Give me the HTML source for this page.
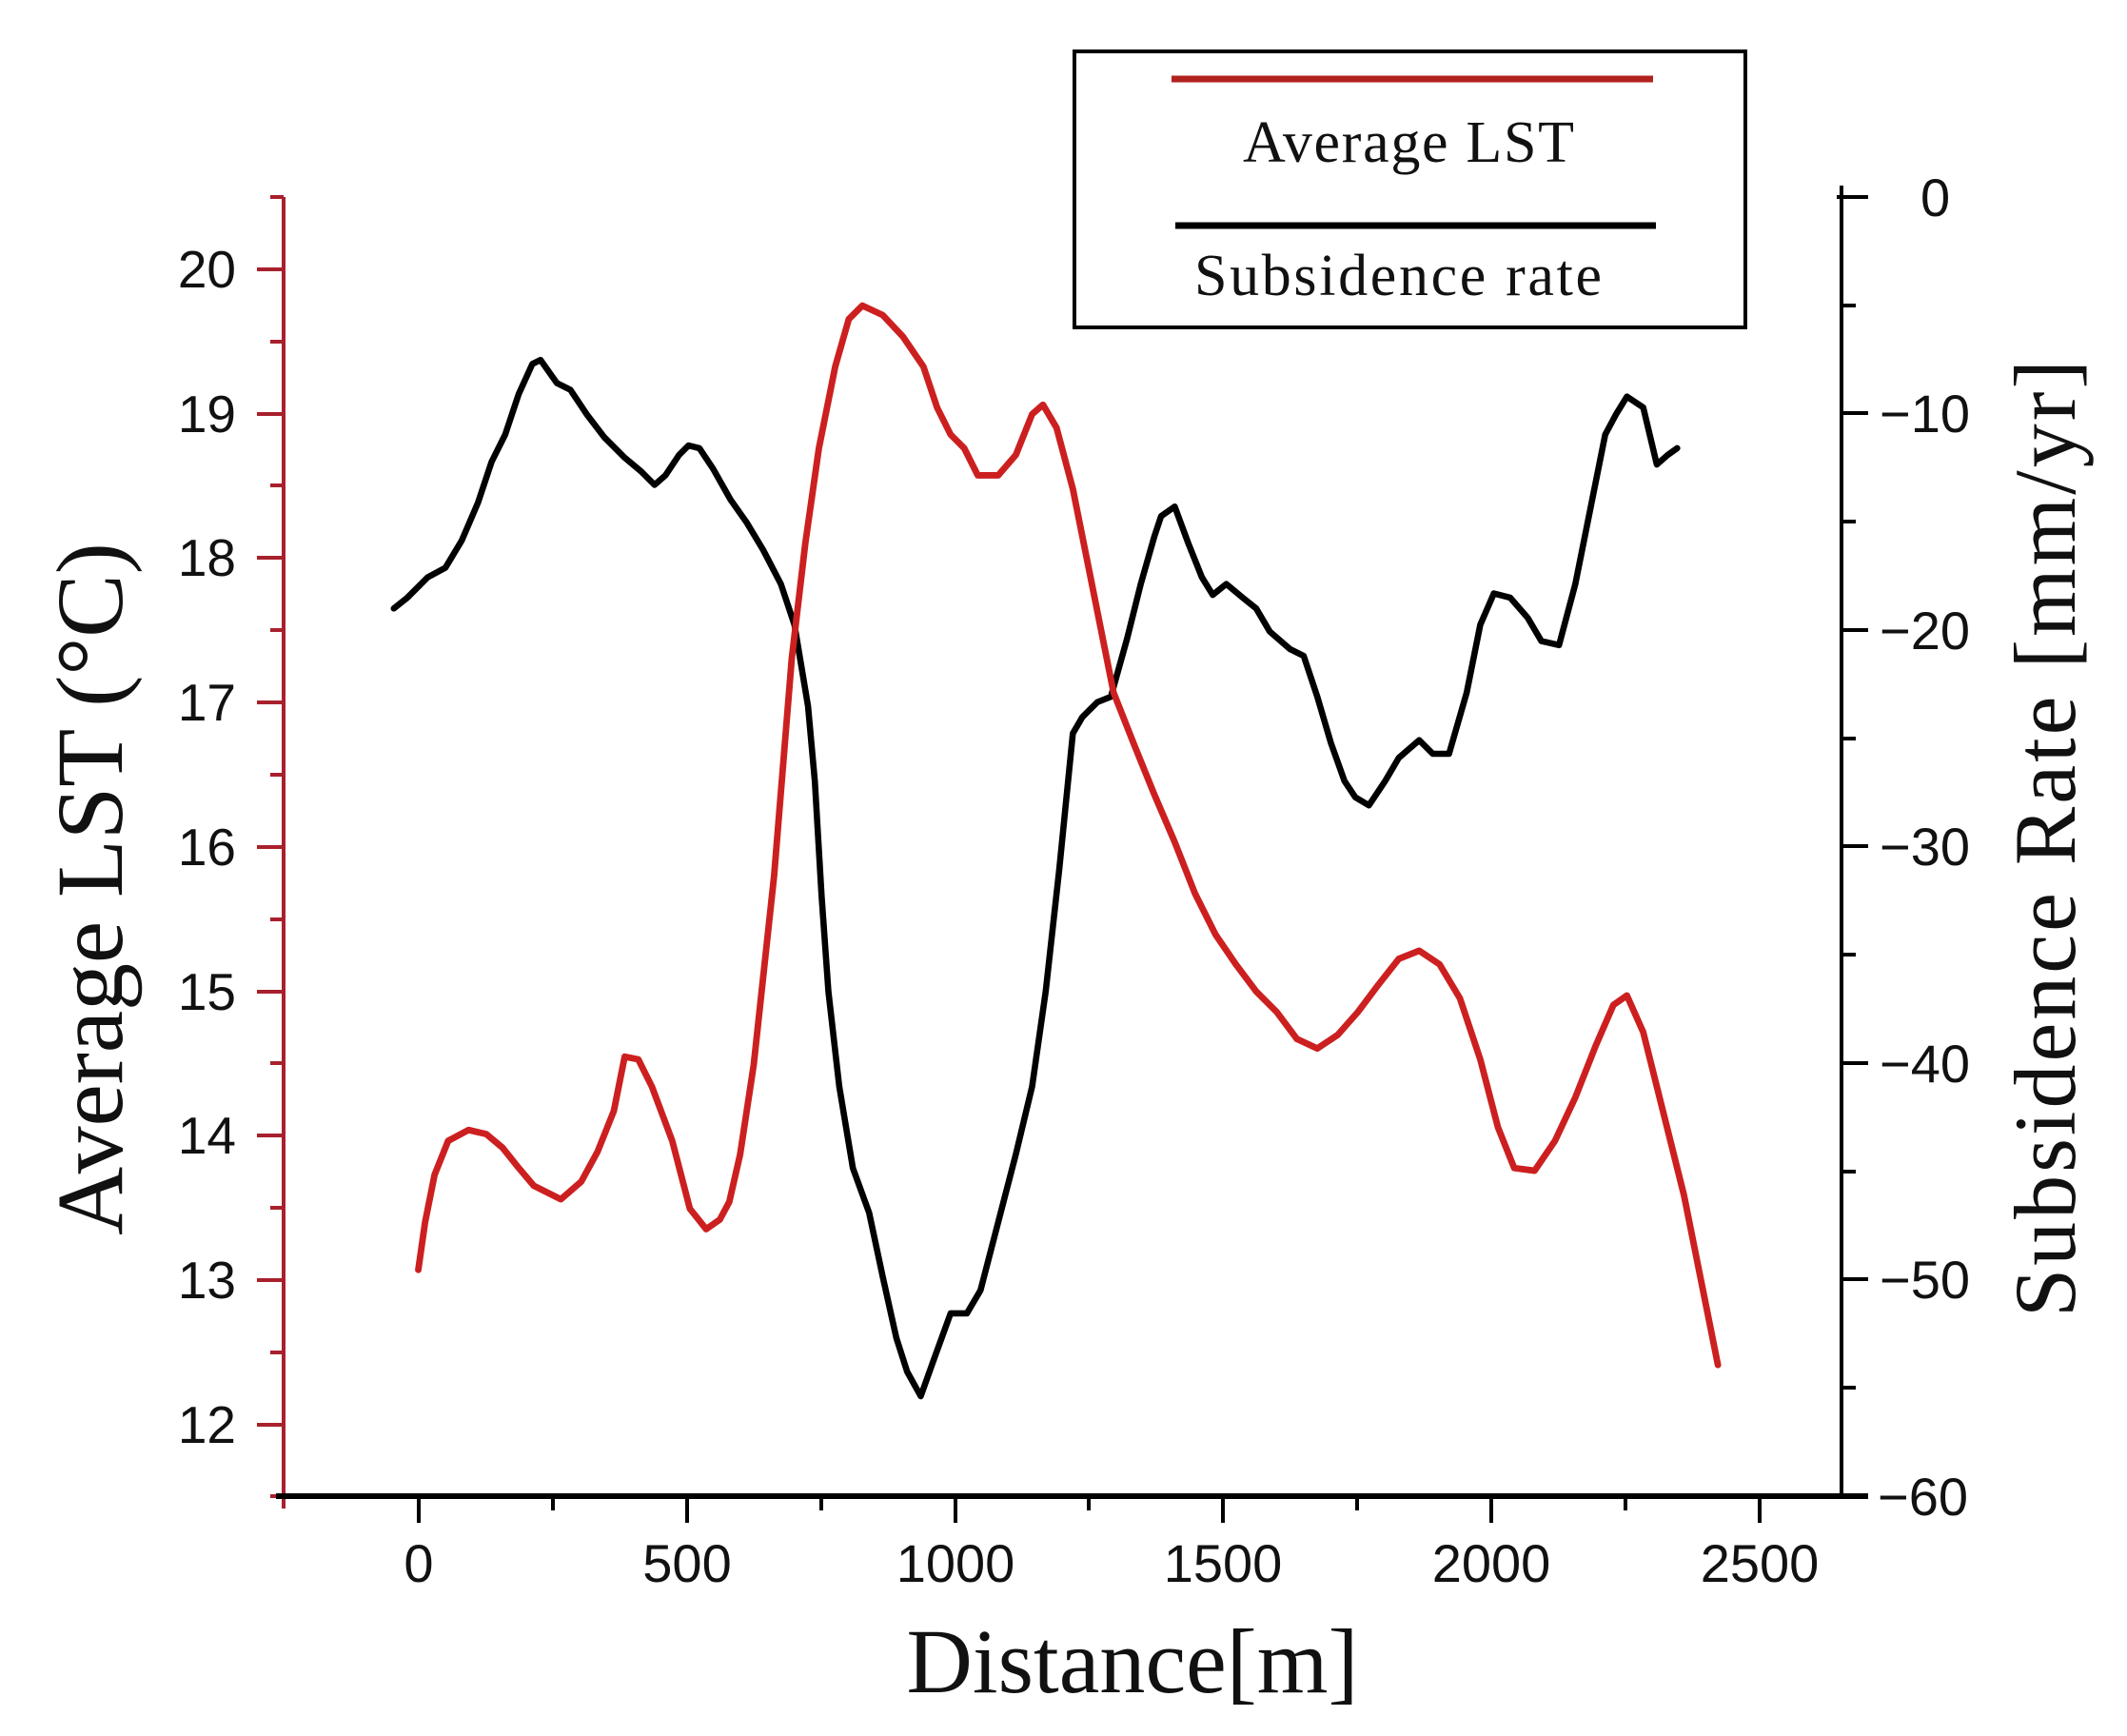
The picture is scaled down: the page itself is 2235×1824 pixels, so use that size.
<!DOCTYPE html>
<html><head><meta charset="utf-8"><style>
html,body{margin:0;padding:0;background:#fff;}
svg{display:block;}
</style></head><body>
<svg width="2235" height="1824" viewBox="0 0 2235 1824" xmlns="http://www.w3.org/2000/svg">
<rect width="2235" height="1824" fill="#fff"/>
<g stroke="#a8202c" stroke-width="4" fill="none">
<line x1="298" y1="207" x2="298" y2="1585"/>
<line x1="284" y1="207" x2="298" y2="207"/>
<line x1="270" y1="283" x2="298" y2="283"/><line x1="284" y1="359" x2="298" y2="359"/>
<line x1="270" y1="435" x2="298" y2="435"/><line x1="284" y1="510" x2="298" y2="510"/>
<line x1="270" y1="586" x2="298" y2="586"/><line x1="284" y1="662" x2="298" y2="662"/>
<line x1="270" y1="738" x2="298" y2="738"/><line x1="284" y1="814" x2="298" y2="814"/>
<line x1="270" y1="890" x2="298" y2="890"/><line x1="284" y1="966" x2="298" y2="966"/>
<line x1="270" y1="1042" x2="298" y2="1042"/><line x1="284" y1="1117" x2="298" y2="1117"/>
<line x1="270" y1="1193" x2="298" y2="1193"/><line x1="284" y1="1269" x2="298" y2="1269"/>
<line x1="270" y1="1345" x2="298" y2="1345"/><line x1="284" y1="1421" x2="298" y2="1421"/>
<line x1="270" y1="1497" x2="298" y2="1497"/><line x1="284" y1="1572" x2="298" y2="1572"/>
</g>
<g font-family="Liberation Sans, sans-serif" font-size="55" fill="#111" text-anchor="end">
<text x="248" y="302">20</text><text x="248" y="454">19</text><text x="248" y="605">18</text>
<text x="248" y="757">17</text><text x="248" y="909">16</text><text x="248" y="1061">15</text>
<text x="248" y="1212">14</text><text x="248" y="1364">13</text><text x="248" y="1516">12</text>
</g>
<g stroke="#000" stroke-width="4" fill="none">
<line x1="1935" y1="195" x2="1935" y2="1572"/>
<line x1="1930" y1="207" x2="1963" y2="207"/><line x1="1935" y1="321" x2="1950" y2="321"/>
<line x1="1935" y1="434" x2="1963" y2="434"/><line x1="1935" y1="548" x2="1950" y2="548"/>
<line x1="1935" y1="662" x2="1963" y2="662"/><line x1="1935" y1="776" x2="1950" y2="776"/>
<line x1="1935" y1="889" x2="1963" y2="889"/><line x1="1935" y1="1003" x2="1950" y2="1003"/>
<line x1="1935" y1="1117" x2="1963" y2="1117"/><line x1="1935" y1="1231" x2="1950" y2="1231"/>
<line x1="1935" y1="1344" x2="1963" y2="1344"/><line x1="1935" y1="1458" x2="1950" y2="1458"/>
<line x1="1935" y1="1572" x2="1963" y2="1572"/>
</g>
<g font-family="Liberation Sans, sans-serif" font-size="56" fill="#111">
<text x="2018" y="227">0</text><text x="1975" y="454">−10</text><text x="1975" y="682">−20</text>
<text x="1975" y="909">−30</text><text x="1975" y="1137">−40</text><text x="1975" y="1364">−50</text>
<text x="1973" y="1592">−60</text>
</g>
<g stroke="#000" stroke-width="6"><line x1="290" y1="1572" x2="1963" y2="1572"/></g>
<g stroke="#000" stroke-width="4">
<line x1="440" y1="1572" x2="440" y2="1600"/><line x1="581" y1="1572" x2="581" y2="1587"/>
<line x1="722" y1="1572" x2="722" y2="1600"/><line x1="863" y1="1572" x2="863" y2="1587"/>
<line x1="1004" y1="1572" x2="1004" y2="1600"/><line x1="1144" y1="1572" x2="1144" y2="1587"/>
<line x1="1285" y1="1572" x2="1285" y2="1600"/><line x1="1426" y1="1572" x2="1426" y2="1587"/>
<line x1="1567" y1="1572" x2="1567" y2="1600"/><line x1="1708" y1="1572" x2="1708" y2="1587"/>
<line x1="1849" y1="1572" x2="1849" y2="1600"/>
</g>
<g font-family="Liberation Sans, sans-serif" font-size="56" fill="#111" text-anchor="middle">
<text x="440" y="1662">0</text><text x="722" y="1662">500</text><text x="1004" y="1662">1000</text>
<text x="1285" y="1662">1500</text><text x="1567" y="1662">2000</text><text x="1849" y="1662">2500</text>
</g>
<text x="1190" y="1778" font-family="Liberation Serif, serif" font-size="96" text-anchor="middle" textLength="475" fill="#111">Distance[m]</text>
<text transform="translate(128,934) rotate(-90)" font-family="Liberation Serif, serif" font-size="100" text-anchor="middle" textLength="728" fill="#111">Average  LST  (°C)</text>
<text transform="translate(2180,881) rotate(-90)" font-family="Liberation Serif, serif" font-size="92" text-anchor="middle" textLength="1006" fill="#111">Subsidence Rate [mm/yr]</text>
<g transform="scale(1.427)" fill="none" stroke-linejoin="round" stroke-linecap="round">
<polyline stroke="#000" stroke-width="4.6" points="290,448 300,440 315,425 328,418 340,398 352,370 362,340 372,320 382,290 392,268 398,265 410,282 420,287 432,305 445,322 460,337 472,347 482,357 490,350 500,335 507,328 515,330 525,345 538,368 550,385 562,405 575,430 585,460 595,520 600,575 605,660 610,730 618,800 628,860 640,893 650,940 660,985 668,1010 678,1028 688,1000 700,967 712,967 722,950 735,900 748,850 760,800 770,730 780,640 790,540 797,528 808,517 818,513 830,470 840,430 850,395 855,380 865,373 875,400 885,425 893,438 903,430 915,440 925,448 935,465 950,478 960,483 970,513 980,547 990,575 998,587 1008,593 1020,575 1030,558 1045,545 1055,555 1067,555 1080,510 1090,460 1100,437 1112,440 1125,455 1135,472 1148,475 1160,430 1170,380 1182,320 1190,305 1198,292 1210,300 1220,342 1228,335 1235,330"/>
<polyline stroke="#cc2020" stroke-width="4.8" points="308,935 313,900 320,865 330,840 345,832 358,835 370,845 382,860 393,873 413,883 428,870 440,848 452,818 460,778 470,780 480,800 495,840 508,890 520,905 530,898 537,885 545,850 555,784 570,645 583,485 593,400 603,330 615,270 625,235 635,225 650,232 665,248 680,270 690,300 700,320 710,330 720,350 735,350 748,335 760,305 768,298 778,315 790,360 800,410 810,460 820,510 835,548 850,585 865,620 880,658 895,688 910,710 925,730 940,745 955,765 970,772 985,762 1000,745 1015,725 1030,706 1045,700 1060,710 1075,735 1090,780 1103,830 1115,860 1130,862 1145,840 1160,808 1175,770 1188,740 1198,733 1210,760 1225,820 1240,880 1252,940 1265,1005"/>
</g>
<rect x="1129" y="54" width="705" height="290" fill="#fff" stroke="#000" stroke-width="4"/>
<line x1="1231" y1="83" x2="1737" y2="83" stroke="#b0221e" stroke-width="7"/>
<text x="1480" y="170" font-family="Liberation Serif, serif" font-size="62" text-anchor="middle" textLength="348" fill="#111">Average LST</text>
<line x1="1235" y1="237" x2="1740" y2="237" stroke="#000" stroke-width="7"/>
<text x="1469" y="310" font-family="Liberation Serif, serif" font-size="62" text-anchor="middle" textLength="428" fill="#111">Subsidence  rate</text>
</svg>
</body></html>
